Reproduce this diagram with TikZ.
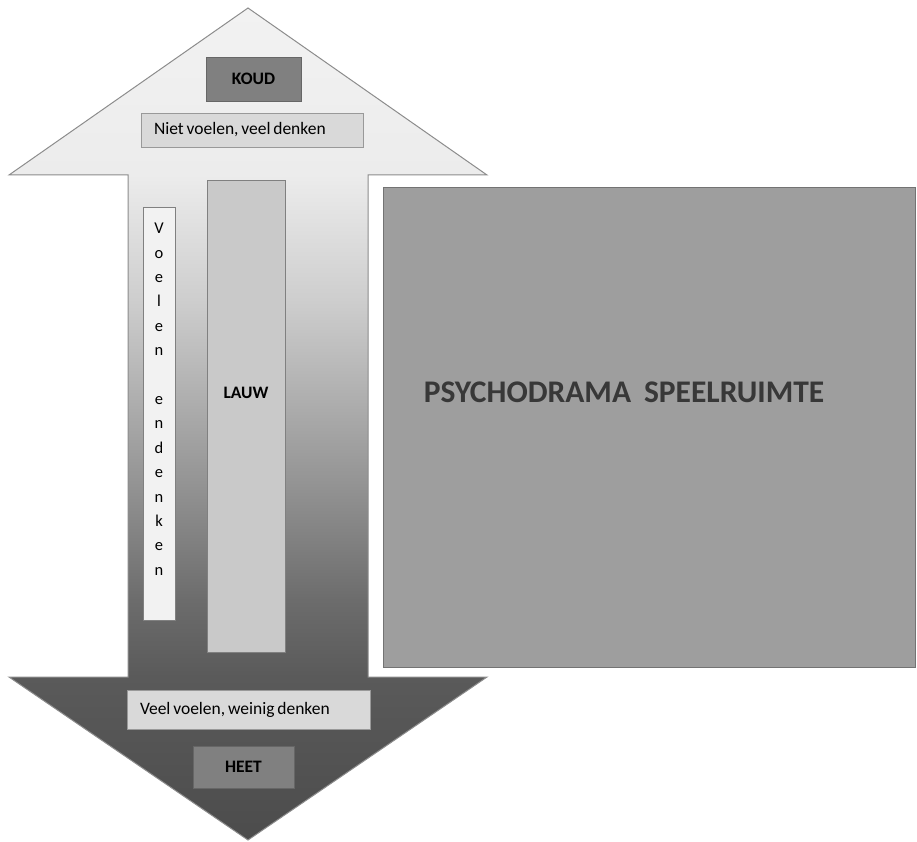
\documentclass[tikz,border=0pt]{standalone}
\usepackage{fontspec}
\setmainfont{Carlito}
\definecolor{edgegray}{HTML}{8C8C8C}
\definecolor{boxdark}{HTML}{808080}
\definecolor{boxlight}{HTML}{D9D9D9}
\definecolor{lauwfill}{HTML}{C9C9C9}
\definecolor{stagefill}{HTML}{9E9E9E}
\definecolor{stagetext}{HTML}{383838}
\definecolor{fadeA}{HTML}{4C4C4C}
\definecolor{fadeB}{HTML}{5A5A5A}
\definecolor{fadeC}{HTML}{6C6C6C}
\definecolor{fadeD}{HTML}{8E8E8E}
\definecolor{fadeE}{HTML}{AEAEAE}
\definecolor{fadeF}{HTML}{CECECE}
\definecolor{fadeG}{HTML}{ECECEC}
\definecolor{fadeH}{HTML}{F2F2F2}
\pgfdeclareverticalshading{tempfade}{100bp}{color(0bp)=(fadeA); color(25bp)=(fadeA); color(34.8bp)=(fadeB); color(39.4bp)=(fadeC); color(45.4bp)=(fadeD); color(51.4bp)=(fadeE); color(57.5bp)=(fadeF); color(65bp)=(fadeG); color(75bp)=(fadeH); color(100bp)=(fadeH)}
\tikzset{
  temparrow/.style={draw=edgegray, line width=1pt, shading=tempfade},
  tempbox/.style={draw=black!60, line width=.8pt, fill=boxdark, font=\bfseries\fontsize{17.5}{20}\selectfont, inner sep=0pt},
  feelbox/.style={draw=black!40, line width=.8pt, fill=boxlight, font=\fontsize{17.5}{20}\selectfont, execute at begin node={\spaceskip=2.8pt\relax}, inner sep=0pt, align=left},
  columnbox/.style={draw=black!50, line width=.8pt, inner sep=0pt}
}
\begin{document}
\begin{tikzpicture}[x=1pt,y=-1pt]
    \useasboundingbox (0,0) rectangle (917,842);

    % dubbele pijl koud - heet
    \shadedraw[temparrow] (248,8) -- (487,175) -- (368,175) -- (368,677) -- (487,677)
        -- (248,840) -- (9,677) -- (128,677) -- (128,175) -- (9,175) -- cycle;

    \node[tempbox, minimum width=95pt, minimum height=44pt] (koud) at (253.5,79) {KOUD};
    \node[feelbox, minimum width=222pt, minimum height=34pt, text width=196pt] (niet) at (252,130) {Niet voelen, veel denken};

    \node[columnbox, fill=lauwfill, minimum width=78pt, minimum height=472pt] (lauw) at (246,416) {};
    \node[font=\bfseries\fontsize{17.5}{20}\selectfont] (lauwtxt) at (246,393) {LAUW};

    \node[columnbox, fill=black!5, minimum width=32pt, minimum height=413pt] (voelen) at (159,413.5) {};
    \node[anchor=north, inner sep=0pt, align=center, font=\fontsize{16.5}{24.4}\selectfont] (voelentxt) at (159,222.9)
        {V\\o\\e\\l\\e\\n\\\mbox{}\\e\\n\\d\\e\\n\\k\\e\\n};

    \node[feelbox, minimum width=243pt, minimum height=39pt, text width=217pt] (veel) at (248.5,709.5) {Veel voelen, weinig denken};
    \node[tempbox, minimum width=101pt, minimum height=42pt] (heet) at (243.5,767) {HEET};

    % speelruimte
    \node[columnbox, draw=black!55, fill=stagefill, minimum width=532pt, minimum height=480pt] (stage) at (649,427) {};
    \node[text=stagetext, font=\bfseries\fontsize{31.5}{36}\selectfont] (stagetxt) at (624,392.5) {PSYCHODRAMA\hspace{13pt}SPEELRUIMTE};
\end{tikzpicture}
\end{document}
